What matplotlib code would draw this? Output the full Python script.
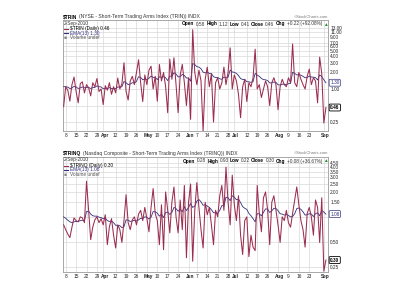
import matplotlib
matplotlib.use("Agg")
import matplotlib.pyplot as plt
import matplotlib.transforms as mtransforms
from matplotlib.lines import Line2D
from matplotlib.ticker import FixedLocator, NullLocator, FuncFormatter
import pandas as pd

# trading days Mar 5 - Sep 2, 2010 (NYSE holidays removed)
holidays = ['2010-04-02', '2010-05-31', '2010-07-05']
days = [d for d in pd.bdate_range('2010-03-05', '2010-09-02') if d.strftime('%Y-%m-%d') not in holidays]

# $TRIN daily close, one row per month
trin = [0.48, 1.10, 0.95, 0.60, 1.20, 1.65, 0.90, 0.56, 1.25, 1.35, 0.85, 1.20, 1.05, 0.75, 1.30, 1.10, 1.55, 0.90, 1.00,
        0.52, 1.15, 0.95, 1.30, 0.80, 1.10, 0.85, 1.58, 1.00, 1.25, 3.00, 0.90, 0.63, 1.40, 1.70, 1.20, 2.00, 3.40, 1.30, 0.59, 1.80,
        1.20, 2.20, 2.60, 1.00, 1.70, 0.60, 2.80, 1.40, 2.00, 1.10, 0.37, 3.50, 1.50, 3.70, 1.20, 0.37, 1.80, 2.80, 1.30, 0.50,
        1.60, 0.28, 12.0, 2.00, 1.20, 2.20, 1.40, 0.17, 1.50, 2.50, 1.10, 1.90, 0.25, 1.30, 1.60, 1.00, 1.30, 2.50, 1.20, 2.00, 5.60, 1.00,
        1.80, 1.40, 0.80, 0.30, 1.10, 1.50, 0.59, 1.30, 1.10, 1.60, 5.30, 1.00, 1.20, 0.70, 1.00, 1.40, 1.10, 0.50, 1.30, 1.60, 1.20,
        0.42, 1.10, 1.50, 1.20, 1.10, 1.60, 1.30, 6.60, 1.30, 1.10, 2.00, 1.50, 1.20, 1.00, 1.70, 2.30, 1.20, 1.60, 1.40, 0.56, 3.80, 1.90,
        0.24, 0.46]
trin_ema = [1.10, 1.10, 1.08, 1.02, 1.04, 1.12, 1.09, 1.02, 1.05, 1.09, 1.05, 1.07, 1.07, 1.02, 1.06, 1.07, 1.14, 1.10, 1.09,
            1.01, 1.03, 1.02, 1.06, 1.02, 1.03, 1.01, 1.09, 1.08, 1.10, 1.37, 1.30, 1.20, 1.23, 1.30, 1.28, 1.38, 1.67, 1.62, 1.47, 1.52,
            1.47, 1.57, 1.72, 1.62, 1.63, 1.48, 1.67, 1.63, 1.68, 1.60, 1.42, 1.72, 1.69, 1.98, 1.87, 1.66, 1.68, 1.84, 1.76, 1.58,
            1.58, 1.39, 2.91, 2.78, 2.55, 2.50, 2.34, 2.03, 1.96, 2.04, 1.91, 1.91, 1.67, 1.62, 1.62, 1.53, 1.50, 1.65, 1.59, 1.65, 2.21, 2.04,
            2.01, 1.92, 1.76, 1.55, 1.49, 1.49, 1.36, 1.35, 1.32, 1.36, 1.92, 1.79, 1.70, 1.56, 1.48, 1.47, 1.42, 1.29, 1.29, 1.34, 1.32,
            1.19, 1.18, 1.22, 1.22, 1.20, 1.25, 1.26, 2.02, 1.92, 1.80, 1.83, 1.78, 1.70, 1.60, 1.62, 1.72, 1.65, 1.64, 1.61, 1.46, 1.80, 1.68,
            1.47, 1.30]

# $TRINQ daily close
trinq = [0.80, 0.70, 0.62, 0.56, 0.75, 0.97, 0.90, 0.87, 1.00, 0.97, 0.85, 2.70, 1.20, 0.53, 0.75, 0.92, 1.00, 0.85, 0.95,
         0.80, 1.06, 0.46, 0.76, 0.95, 0.60, 0.42, 0.80, 0.70, 0.49, 0.90, 1.85, 0.85, 0.70, 0.92, 1.00, 0.80, 1.08, 1.20, 0.90, 1.30,
         0.95, 0.66, 1.30, 2.20, 1.10, 0.90, 0.46, 1.40, 0.40, 2.00, 1.20, 0.64, 1.50, 2.30, 1.00, 0.64, 1.60, 0.70, 2.40, 0.32,
         1.50, 2.50, 0.29, 1.20, 2.60, 1.30, 0.70, 0.42, 1.50, 1.06, 1.30, 0.80, 0.46, 1.20, 1.00, 1.80, 2.40, 1.20, 4.00, 1.50, 0.80, 3.20,
         1.40, 0.90, 1.80, 0.60, 0.35, 0.90, 1.00, 0.33, 0.60, 0.43, 0.39, 2.40, 1.10, 0.66, 1.70, 2.00, 1.20, 0.46, 1.50, 1.80, 1.20,
         0.80, 0.49, 1.00, 0.90, 1.20, 0.85, 0.75, 1.10, 1.60, 2.30, 1.40, 0.90, 0.70, 0.43, 1.10, 1.30, 1.00, 0.60, 1.60, 1.30, 0.49, 1.70,
         0.22, 0.30]
trinq_ema = [1.00, 0.96, 0.91, 0.87, 0.85, 0.87, 0.88, 0.88, 0.90, 0.91, 0.90, 1.16, 1.17, 1.08, 1.03, 1.02, 1.02, 0.99, 0.98,
             0.95, 0.97, 0.90, 0.88, 0.89, 0.85, 0.79, 0.79, 0.78, 0.74, 0.76, 0.92, 0.91, 0.88, 0.89, 0.91, 0.89, 0.92, 0.96, 0.95, 1.00,
             0.99, 0.94, 0.99, 1.16, 1.15, 1.11, 1.02, 1.08, 0.98, 1.13, 1.14, 1.07, 1.13, 1.30, 1.26, 1.17, 1.23, 1.15, 1.33, 1.19,
             1.30, 1.45, 1.30, 1.35, 1.55, 1.62, 1.52, 1.38, 1.40, 1.35, 1.30, 1.22, 1.12, 1.12, 1.10, 1.20, 1.37, 1.35, 1.73, 1.70, 1.57, 1.80,
             1.73, 1.61, 1.64, 1.49, 1.33, 1.27, 1.23, 1.10, 1.03, 0.95, 0.87, 1.09, 1.09, 1.03, 1.13, 1.25, 1.24, 1.13, 1.18, 1.27, 1.26,
             1.19, 1.09, 1.08, 1.05, 1.07, 1.04, 1.00, 1.01, 1.09, 1.26, 1.28, 1.23, 1.15, 1.05, 1.06, 1.09, 1.08, 1.01, 1.09, 1.12, 1.03, 1.20,
             1.14, 1.08]

# x axis labels (Mondays + first trading day of each month)
tick_dates = ['2010-03-08', '2010-03-15', '2010-03-22', '2010-03-29', '2010-04-01', '2010-04-12', '2010-04-19',
              '2010-04-26', '2010-05-03', '2010-05-10', '2010-05-17', '2010-05-24', '2010-06-01', '2010-06-07',
              '2010-06-14', '2010-06-21', '2010-06-28', '2010-07-01', '2010-07-12', '2010-07-19', '2010-07-26',
              '2010-08-02', '2010-08-09', '2010-08-16', '2010-08-23', '2010-09-01']
tick_text = ['8', '15', '22', '29', 'Apr', '12', '19', '26', 'May', '10', '17', '24', 'Jun', '7',
             '14', '21', '28', 'Jul', '12', '19', '26', 'Aug', '9', '16', '23', 'Sep']

trin_yticks = [0.25, 0.50, 1.00, 2.00, 3.00, 4.00, 5.00, 6.00, 7.00, 9.00, 11.00, 13.00]
trinq_yticks = [0.25, 0.50, 1.00, 1.50, 2.00, 2.50, 3.00, 3.50, 4.00, 4.50]

FONT = 'Liberation Sans'
FS = 3.4
RED = '#9b2d50'
BLUE = '#30307f'

W, H = 400, 300
fig = plt.figure(figsize=(4, 3), dpi=100)
fig.patch.set_facecolor('white')
renderer = fig.canvas.get_renderer()


def fx(x):
    return x / W


def fy(y):
    return 1 - y / H


def run(pieces, y, x=None, right=None, size=FS):
    # draw bits of text side by side, bold where asked
    texts, widths = [], []
    for s, bold, col in pieces:
        t = fig.text(0, fy(y), s, fontsize=size, family=FONT, color=col,
                     fontweight='bold' if bold else 'normal', va='center', ha='left')
        texts.append(t)
        widths.append(t.get_window_extent(renderer).width)
    gap = 1.3
    if x is None:
        x = right - (sum(widths) + gap * (len(pieces) - 1))
    for t, w in zip(texts, widths):
        t.set_x(fx(x))
        x += w + gap


xpos = list(range(len(days)))
day_str = [d.strftime('%Y-%m-%d') for d in days]
tick_pos = [day_str.index(d) for d in tick_dates]

panels = [
    dict(top=20, bottom=131, ylim=(0.172, 18.0), vals=trin, ema=trin_ema, yticks=trin_yticks,
         name='$TRIN', desc='(NYSE - Short-Term Trading Arms Index (TRIN)) INDX',
         ohlc=[('Open', '0.58'), ('High', '1.12'), ('Low', '0.41'), ('Close', '0.46'), ('Chg', '+0.22 (+92.08%)')],
         close='0.46', emalab='1.30', hidden=0.50),
    dict(top=157, bottom=272, ylim=(0.215, 5.3), vals=trinq, ema=trinq_ema, yticks=trinq_yticks,
         name='$TRINQ', desc='(Nasdaq Composite - Short-Term Trading Arms Index (TRINQ)) INDX',
         ohlc=[('Open', '0.28'), ('High', '0.93'), ('Low', '0.22'), ('Close', '0.30'), ('Chg', '+0.08 (+36.67%)')],
         close='0.30', emalab='1.08', hidden=1.00),
]

month_shift = mtransforms.ScaledTranslation(1.5 / 100, 0, fig.dpi_scale_trans)

for p in panels:
    ax = fig.add_axes([fx(63), fy(p['bottom']), (328 - 63) / W, (p['bottom'] - p['top']) / H])
    ax.set_yscale('log')
    ax.set_ylim(*p['ylim'])
    ax.set_xlim(-0.3, len(days))

    ax.plot(xpos, p['ema'], color=BLUE, lw=0.6, zorder=3)
    ax.plot(xpos, p['vals'], color=RED, lw=0.75, zorder=4)

    ax.yaxis.tick_right()
    ax.yaxis.set_major_locator(FixedLocator(p['yticks']))
    ax.yaxis.set_minor_locator(NullLocator())
    # the label under the last-value box is covered in the original
    ax.yaxis.set_major_formatter(FuncFormatter(lambda v, _, h=p['hidden']: '' if abs(v - h) < 1e-6 else f'{v:.2f}'))
    ax.set_xticks(tick_pos, tick_text)
    ax.tick_params(axis='both', length=0, labelsize=FS, pad=1.5, labelcolor='#222222')
    for lab in ax.get_xticklabels():
        if lab.get_text().isalpha():
            lab.set_fontweight('bold')
            lab.set_transform(lab.get_transform() + month_shift)
    for lab in ax.get_xticklabels() + ax.get_yticklabels():
        lab.set_family(FONT)
    ax.grid(True, color='#d9d9d9', lw=0.5)
    ax.set_axisbelow(True)
    for s in ax.spines.values():
        s.set_color('#9a9a9a')
        s.set_linewidth(0.6)

    # last value boxes at the right edge
    trans = mtransforms.blended_transform_factory(ax.transAxes, ax.transData)
    ax.text(1.008, float(p['emalab']), p['emalab'], transform=trans, fontsize=FS, family=FONT,
            color=BLUE, va='center', ha='left', zorder=6,
            bbox=dict(boxstyle='round,pad=0.2', fc='white', ec=BLUE, lw=0.5))
    ax.text(1.008, p['vals'][-1], p['close'], transform=trans, fontsize=FS, family=FONT,
            color='black', fontweight='bold', va='center', ha='left', zorder=6,
            bbox=dict(boxstyle='round,pad=0.2', fc='white', ec='black', lw=0.6))

    t0 = p['top']
    run([(p['name'], True, 'black'), (p['desc'], False, '#333333')], t0 - 3.5, x=63, size=3.6)
    fig.text(fx(328), fy(t0 - 3.5), '\u00a9StockCharts.com', fontsize=3.0, family=FONT,
             color='#777777', ha='right', va='center')
    fig.text(fx(64), fy(t0 + 3), '2-Sep-2010', fontsize=FS, family=FONT, color='#333333', va='center')
    pieces = []
    for k, v in p['ohlc']:
        pieces.append((k, True, 'black'))
        pieces.append((v, False, '#333333'))
    pieces.append(('\u25b2', False, '#2a8a2a'))
    run(pieces, t0 + 4, right=328)

    # legend
    for j, (lab, col) in enumerate([(f"{p['name']} (Daily) {p['close']}", 'black'),
                                    (f"EMA(13) {p['emalab']}", BLUE)]):
        yy = t0 + 8.5 + 4.5 * j
        fig.add_artist(Line2D([fx(64), fx(68)], [fy(yy), fy(yy)], color=RED if j == 0 else BLUE, lw=0.8))
        fig.text(fx(69.5), fy(yy), lab, fontsize=FS, family=FONT, color=col, va='center')
    yy = t0 + 17.5
    fig.text(fx(64), fy(yy), '\u25aa', fontsize=FS, family='DejaVu Sans', color='#888888', va='center')
    fig.text(fx(69.5), fy(yy), 'Volume undef', fontsize=FS, family=FONT, color='#555555', va='center')

fig.savefig('out.png', dpi=100, facecolor='white')
